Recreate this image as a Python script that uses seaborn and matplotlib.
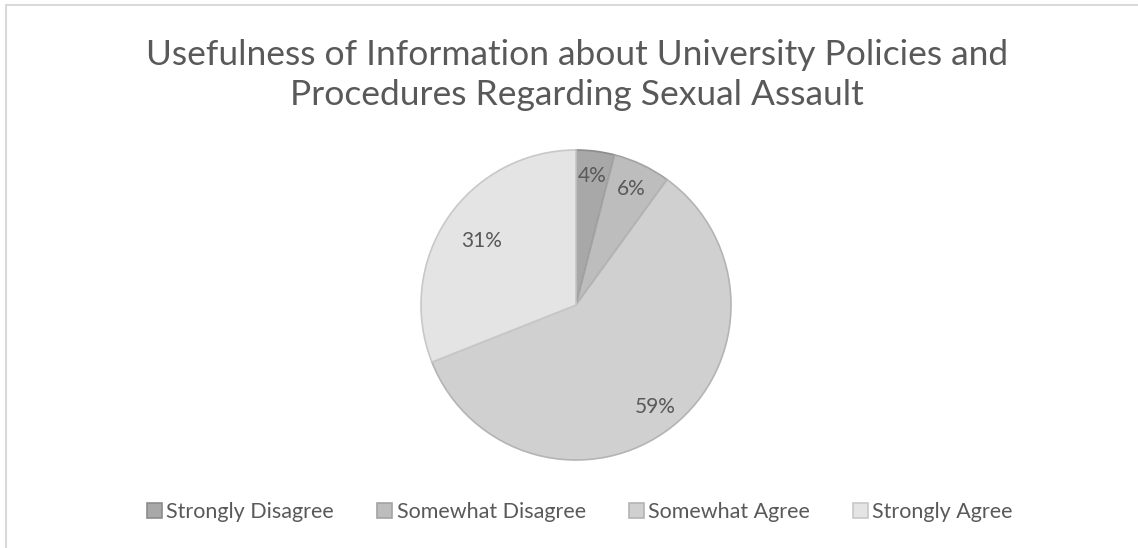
import matplotlib
matplotlib.use("Agg")
import numpy as np
import matplotlib.pyplot as plt
import seaborn as sns

categories = ["Strongly Disagree", "Somewhat Disagree", "Somewhat Agree", "Strongly Agree"]
shares = [4, 6, 59, 31]
colors = ["#a8a8a8", "#bdbdbd", "#d0d0d0", "#e4e4e4"]
edges = ["#8c8c8c", "#a3a3a3", "#b4b4b4", "#c8c8c8"]
label_dist = [0.84, 0.83, 0.83, 0.74]
title = "Usefulness of Information about University Policies and\nProcedures Regarding Sexual Assault"

sns.set_theme(style="white")
plt.rcParams['font.family'] = ['Lato', 'DejaVu Sans']
text_color = "#595959"

W, H = 1138, 548
fig = plt.figure(figsize=(W / 100, H / 100), dpi=100)
fig.patch.set_facecolor("white")

# chart-area border (only top and left visible in the crop)
fig.add_artist(plt.Line2D([6 / W, 1], [1 - 5 / H, 1 - 5 / H], color="#d9d9d9", lw=1.5))
fig.add_artist(plt.Line2D([6 / W, 6 / W], [0, 1 - 5 / H], color="#d9d9d9", lw=1.5))

cx, cy, r = 576, 305, 155 * 1.02
ax = fig.add_axes([(cx - r) / W, (H - cy - r) / H, 2 * r / W, 2 * r / H])
wedges, _ = ax.pie(shares, colors=colors, startangle=90, counterclock=False,
                   radius=1, wedgeprops=dict(linewidth=1.2))
for w, ec in zip(wedges, edges):
    w.set_edgecolor(ec)

total = sum(shares)
for w, v, d in zip(wedges, shares, label_dist):
    ang = np.deg2rad((w.theta1 + w.theta2) / 2)
    ax.text(d * np.cos(ang), d * np.sin(ang), f"{round(100 * v / total)}%",
            ha="center", va="center", fontsize=15, color=text_color)
ax.set_xlim(-1.02, 1.02)
ax.set_ylim(-1.02, 1.02)
ax.set_aspect("equal")
ax.axis("off")

fig.text(577 / W, 1 - 75 / H, title, ha="center", va="center", fontsize=25.5,
         color=text_color, linespacing=1.32)

leg = fig.legend(wedges, categories, loc="center", bbox_to_anchor=(580 / W, 1 - 512 / H),
                 ncol=4, frameon=False, fontsize=15.5, handlelength=0.7, handleheight=0.7,
                 handletextpad=0.2, columnspacing=2.0)
for t in leg.get_texts():
    t.set_color(text_color)

fig.savefig("out.png", dpi=100, facecolor="white")
